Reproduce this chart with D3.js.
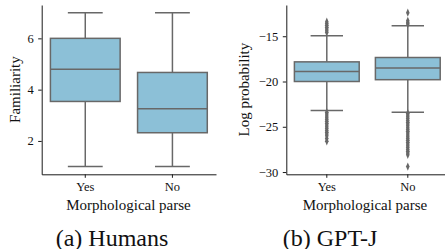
<!DOCTYPE html>
<html><head><meta charset="utf-8">
<script src="https://cdn.jsdelivr.net/npm/d3@7"></script>
<style>
html,body{margin:0;padding:0;background:#fff;}
</style></head>
<body>
<svg id="c" width="445" height="249"></svg>
<script>
// ---- data ----
const categories = ["Yes", "No"];
// Panel (a) Humans: familiarity
const humansWhiskerLow  = [1, 1];
const humansQ1          = [3.54, 2.32];
const humansMedian      = [4.80, 3.26];
const humansQ3          = [6.0, 4.67];
const humansWhiskerHigh = [7, 7];
const humansTicks       = [2, 4, 6];
// Panel (b) GPT-J: log probability
const gptWhiskerLow  = [-23.2, -23.4];
const gptQ1          = [-20.0, -19.8];
const gptMedian      = [-18.9, -18.5];
const gptQ3          = [-17.83, -17.35];
const gptWhiskerHigh = [-14.95, -13.85];
const gptOutliersYes = [-13.4, -13.6, -13.8, -14.0, -14.2, -14.4, -14.6,
  -23.4, -23.6, -23.8, -24.0, -24.2, -24.4, -24.6, -24.8, -25.0, -25.2, -25.4, -25.6, -25.8, -26.0, -26.3, -26.6];
const gptOutliersNo  = [-12.4, -13.3, -13.5, -13.65,
  -23.5, -23.7, -23.9, -24.1, -24.3, -24.5, -24.7, -24.9, -25.1, -25.3, -25.5, -25.7, -25.9, -26.1, -26.3, -26.5,
  -26.7, -26.9, -27.1, -27.3, -27.5, -27.7, -27.9, -28.1, -29.4];
const gptTicks       = [-15, -20, -25, -30];

const fill = "#8cc0d7", lineCol = "#686868", axisCol = "#1a1a1a";
const FONT = '"Liberation Serif"';
const svg = d3.select("#c");

function panel(opt) {
  const g = svg.append("g");
  const all = opt.lo.concat(opt.hi, ...(opt.outliers || []));
  const mn = d3.min(all), mx = d3.max(all), pad = (mx - mn) * 0.05;
  const y = d3.scaleLinear().domain([mn - pad, mx + pad]).range([174.3, 5]);
  const x = d3.scaleBand().domain(categories).range(opt.xr).paddingInner(0).paddingOuter(0);
  const bw = x.bandwidth(), boxW = bw * 0.8;
  categories.forEach((c, i) => {
    const cx = x(c) + bw / 2;
    const gg = g.append("g");
    gg.append("line").attr("x1", cx).attr("x2", cx).attr("y1", y(opt.q3[i])).attr("y2", y(opt.hi[i]));
    gg.append("line").attr("x1", cx).attr("x2", cx).attr("y1", y(opt.q1[i])).attr("y2", y(opt.lo[i]));
    gg.append("line").attr("x1", cx - boxW / 4).attr("x2", cx + boxW / 4).attr("y1", y(opt.hi[i])).attr("y2", y(opt.hi[i]));
    gg.append("line").attr("x1", cx - boxW / 4).attr("x2", cx + boxW / 4).attr("y1", y(opt.lo[i])).attr("y2", y(opt.lo[i]));
    gg.selectAll("line").attr("stroke", lineCol).attr("stroke-width", 1.5);
    gg.append("rect").attr("x", cx - boxW / 2).attr("width", boxW)
      .attr("y", y(opt.q3[i])).attr("height", y(opt.q1[i]) - y(opt.q3[i]))
      .attr("fill", fill).attr("stroke", lineCol).attr("stroke-width", 1.5);
    gg.append("line").attr("x1", cx - boxW / 2).attr("x2", cx + boxW / 2)
      .attr("y1", y(opt.med[i])).attr("y2", y(opt.med[i]))
      .attr("stroke", lineCol).attr("stroke-width", 1.5);
    if (opt.outliers) {
      const sym = d3.symbol().type(d3.symbolDiamond).size(20);
      gg.selectAll("path.o").data(opt.outliers[i]).join("path").attr("class", "o")
        .attr("d", sym)
        .attr("transform", d => `translate(${cx},${y(d)}) scale(0.75,1)`)
        .attr("fill", lineCol);
    }
  });
  const ya = g.append("g").attr("transform", `translate(${opt.xr[0]},0)`)
    .call(d3.axisLeft(y).tickValues(opt.ticks).tickFormat(d3.format("d")).tickSize(3.5).tickPadding(4.5).tickSizeOuter(0));
  const xa = g.append("g").attr("transform", `translate(0,174.3)`)
    .call(d3.axisBottom(x).tickSize(3.5).tickPadding(4).tickSizeOuter(0));
  [ya, xa].forEach(a => {
    a.attr("font-family", FONT);
    a.select(".domain").attr("stroke", axisCol).attr("stroke-width", 1);
    a.selectAll(".tick line").attr("stroke", axisCol).attr("stroke-width", 1);
    a.selectAll("text").attr("font-size", 12.5).attr("fill", "#111").attr("font-family", FONT);
  });
  g.append("text").attr("transform", `translate(${opt.ylx},89.6) rotate(-90)`)
    .attr("text-anchor", "middle").attr("font-size", 15).attr("font-family", FONT).attr("fill", "#111").text(opt.ylab);
  g.append("text").attr("x", opt.xlX).attr("y", 209.5)
    .attr("text-anchor", "middle").attr("font-size", 15).attr("font-family", FONT).attr("fill", "#111").text("Morphological parse");
  g.append("text").attr("x", opt.capX).attr("y", 245.5)
    .attr("text-anchor", "middle").attr("font-size", 24).attr("font-family", FONT).attr("fill", "#111").text(opt.cap);
}

panel({xr: [41.7, 216], lo: humansWhiskerLow, q1: humansQ1, med: humansMedian, q3: humansQ3, hi: humansWhiskerHigh,
  ticks: humansTicks, ylab: "Familiarity", ylx: 19.5, xlX: 128.5, capX: 112, cap: "(a) Humans"});
panel({xr: [286.3, 448.3], lo: gptWhiskerLow, q1: gptQ1, med: gptMedian, q3: gptQ3, hi: gptWhiskerHigh,
  outliers: [gptOutliersYes, gptOutliersNo],
  ticks: gptTicks, ylab: "Log probability", ylx: 249, xlX: 365, capX: 330, cap: "(b) GPT-J"});
</script>
</body></html>
